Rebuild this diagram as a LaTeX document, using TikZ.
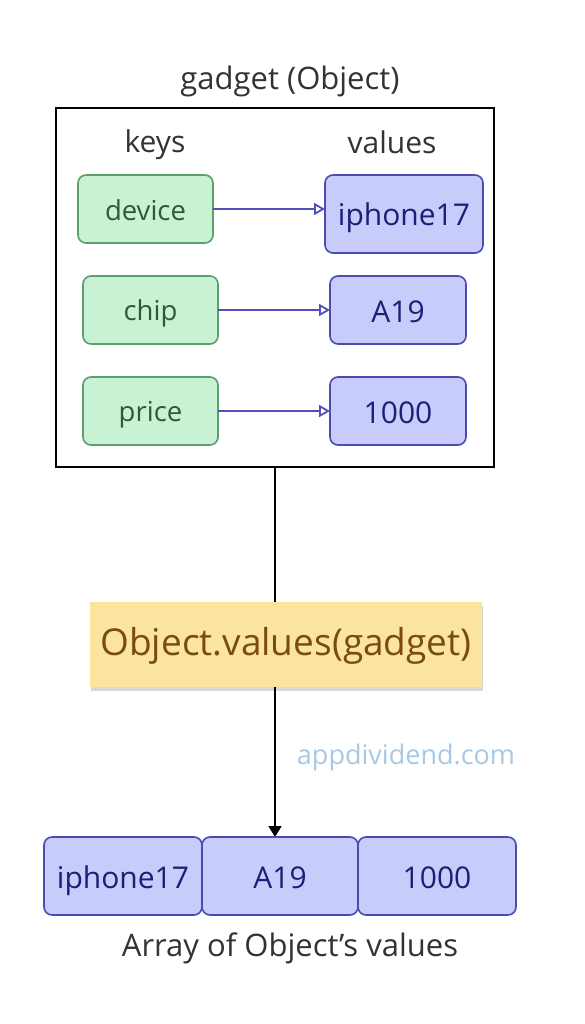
\documentclass[tikz,border=0pt]{standalone}
\usepackage{fontspec}
\setmainfont{Open Sans}
\usetikzlibrary{arrows.meta,shadows}
\definecolor{kfill}{HTML}{C9F2D4}
\definecolor{kdraw}{HTML}{5C9E6C}
\definecolor{ktext}{HTML}{2D5A38}
\definecolor{vfill}{HTML}{C8CCFA}
\definecolor{vdraw}{HTML}{4B4BB0}
\definecolor{vtext}{HTML}{1E1E78}
\definecolor{arr}{HTML}{5050B8}
\definecolor{yfill}{HTML}{FBE49E}
\definecolor{ytext}{HTML}{7A4A14}
\definecolor{wm}{HTML}{A8C8E4}
\definecolor{gtext}{HTML}{333333}
\tikzset{
  fs/.style={font=\fontsize{#1}{#1}\selectfont},
  keybox/.style={draw=kdraw, fill=kfill, line width=1.6pt, rounded corners=8pt},
  valbox/.style={draw=vdraw, fill=vfill, line width=1.6pt, rounded corners=8pt},
  lbl/.style={text=gtext, fs=31},
  ktxt/.style={text=ktext, fs=27.5},
  vtxt/.style={text=vtext, fs=30},
  kv/.style={draw=arr, line width=1.8pt, -{Triangle[open, length=11pt, width=12pt]}},
  flow/.style={draw=black, line width=1.8pt},
}
\begin{document}
\begin{tikzpicture}[x=1pt,y=-1pt]
\useasboundingbox (0,0) rectangle (584,1024);
\fill[white] (0,0) rectangle (584,1024);
% title
\node[lbl] (title) at (290,81) {gadget (Object)};
\draw[line width=2pt] (56,108) rectangle (494,467);
\coordinate (obot) at (275,467);
\node[lbl, fs=30] (keys) at (155,144.5) {keys};
\node[lbl, fs=30] (values) at (392,142) {values};
% keys
\path[keybox] (78,175) rectangle (213,243);
\node[ktxt] (kdevice) at (145.5,210) {device};
\coordinate (kdR) at (213,209);
\path[keybox] (83,276) rectangle (218,344);
\node[ktxt] (kchip) at (150.5,313.5) {chip};
\coordinate (kcR) at (218,310);
\path[keybox] (83,377) rectangle (218,445);
\node[ktxt] (kprice) at (150.5,415) {price};
\coordinate (kpR) at (218,411);
% values
\path[valbox] (325,175) rectangle (483,253);
\node[vtxt] (viphone) at (404,218) {iphone17};
\coordinate (vdL) at (325,209);
\path[valbox] (330,276) rectangle (466,344);
\node[vtxt] (va19) at (398,312) {A19};
\coordinate (vcL) at (330,310);
\path[valbox] (330,377) rectangle (466,445);
\node[vtxt] (v1000) at (398,412.5) {1000};
\coordinate (vpL) at (330,411);
\draw[kv] (kdR) -- (vdL);
\draw[kv] (kcR) -- (vcL);
\draw[kv] (kpR) -- (vpL);
% method
\node[fill=yfill, minimum width=392pt, minimum height=85pt, inner sep=0pt,
  drop shadow={shadow xshift=1pt, shadow yshift=-4pt, opacity=0.3}] (method) at (286,644.5) {};
\node[text=ytext, fs=37] (mtext) at (286,646) {Object.values(gadget)};
\draw[flow] (obot) -- (obot |- method.north);
\coordinate (atop) at (275,837);
\draw[flow, -{Triangle[length=11pt, width=13pt]}] (method.south -| obot) -- (atop);
\node[text=wm, fs=27] (wmark) at (406,757) {appdividend.com};
% array
\path[valbox] (44,837) rectangle (202,915);
\node[vtxt] (a1) at (123,881) {iphone17};
\path[valbox] (202,837) rectangle (358,915);
\node[vtxt] (a2) at (280,878) {A19};
\path[valbox] (358,837) rectangle (516,915);
\node[vtxt] (a3) at (437,877.5) {1000};
\node[lbl] (caption) at (290,948.5) {Array of Object’s values};
\end{tikzpicture}
\end{document}
